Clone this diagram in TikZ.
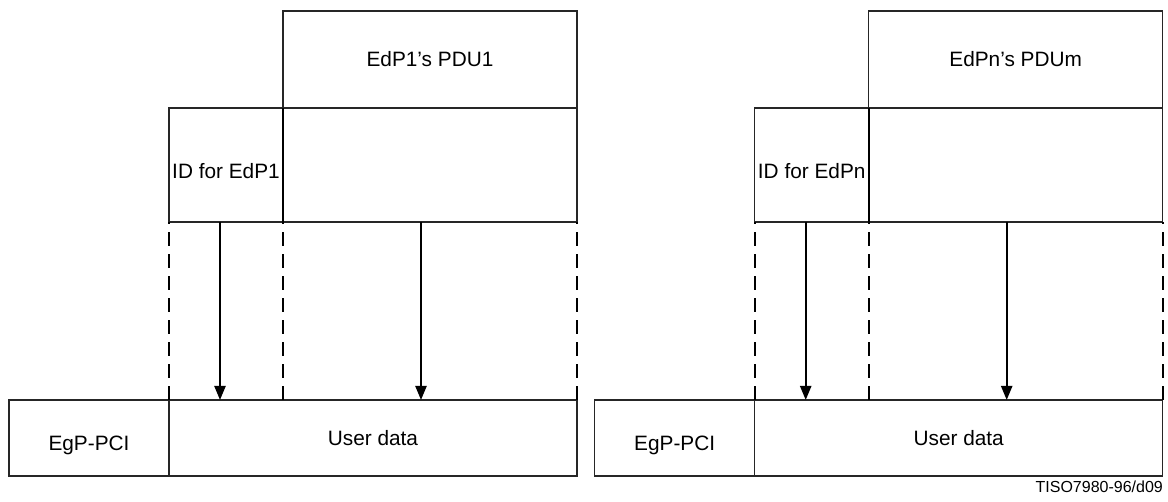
\documentclass[tikz,border=0pt]{standalone}
\usepackage{fontspec}
\setmainfont{Liberation Sans}
\usetikzlibrary{arrows.meta}

\tikzset{
  box/.style={draw=black!85, line width=1.5pt, rectangle, inner sep=0pt,
    outer sep=0pt, anchor=north west, text height=15pt, text depth=0pt,
    font=\fontsize{20.8}{25}\selectfont},
  guide/.style={line width=2.2pt, dash pattern=on 14pt off 8pt},
  flow/.style={line width=2.2pt, -{Triangle[width=11pt,length=14pt]}},
  tag/.style={inner sep=0pt, anchor=base east, font=\fontsize{16}{19}\selectfont},
}

% One panel: an EdP PDU with its identifier carried in the EgP user data
% #1 horizontal shift, #2 name prefix, #3 PDU title, #4 identifier text
\newcommand\pdupanel[4]{%
  \begin{scope}[xshift=#1, name prefix=#2-]
    \node[box, minimum width=294pt, minimum height=97pt]  (pdu)  at (283,11)  {#3};
    \node[box, minimum width=294pt, minimum height=114pt] (body) at (283,108) {};
    \node[box, minimum width=114pt, minimum height=114pt] (id)   at (169,108) {\raisebox{-6.5pt}{#4}};
    \node[box, minimum width=160pt, minimum height=76pt]  (pci)  at (9,400)   {\raisebox{-5pt}{EgP-PCI}};
    \node[box, minimum width=408pt, minimum height=76pt]  (ud)   at (169,400) {User data};
    % projections of the PDU boundaries onto the user data
    \coordinate (mid) at (id.south east |- ud.north);
    \draw[guide] (ud.north west) -- (id.south west);
    \draw[guide] (mid) -- (id.south east);
    \draw[guide] (ud.north east) -- (body.south east);
    \draw[line width=2.2pt] (id.north east) -- (id.south east);
    % mapping arrows
    \coordinate (a1) at ([xshift=51pt]id.south west);
    \coordinate (a2) at ([xshift=138pt]body.south west);
    \draw[flow] (a1) -- (a1 |- ud.north);
    \draw[flow] (a2) -- (a2 |- ud.north);
  \end{scope}%
}

\begin{document}
\begin{tikzpicture}[x=1pt, y=-1pt]
  \useasboundingbox (0,0) rectangle (1168,502);
  \pdupanel{0pt}{l}{EdP1's PDU1}{ID for EdP1}
  \pdupanel{585.7pt}{r}{EdPn's PDUm}{ID for EdPn}
  \node[tag] (code) at (1163,493) {TISO7980-96/d09};
\end{tikzpicture}
\end{document}
